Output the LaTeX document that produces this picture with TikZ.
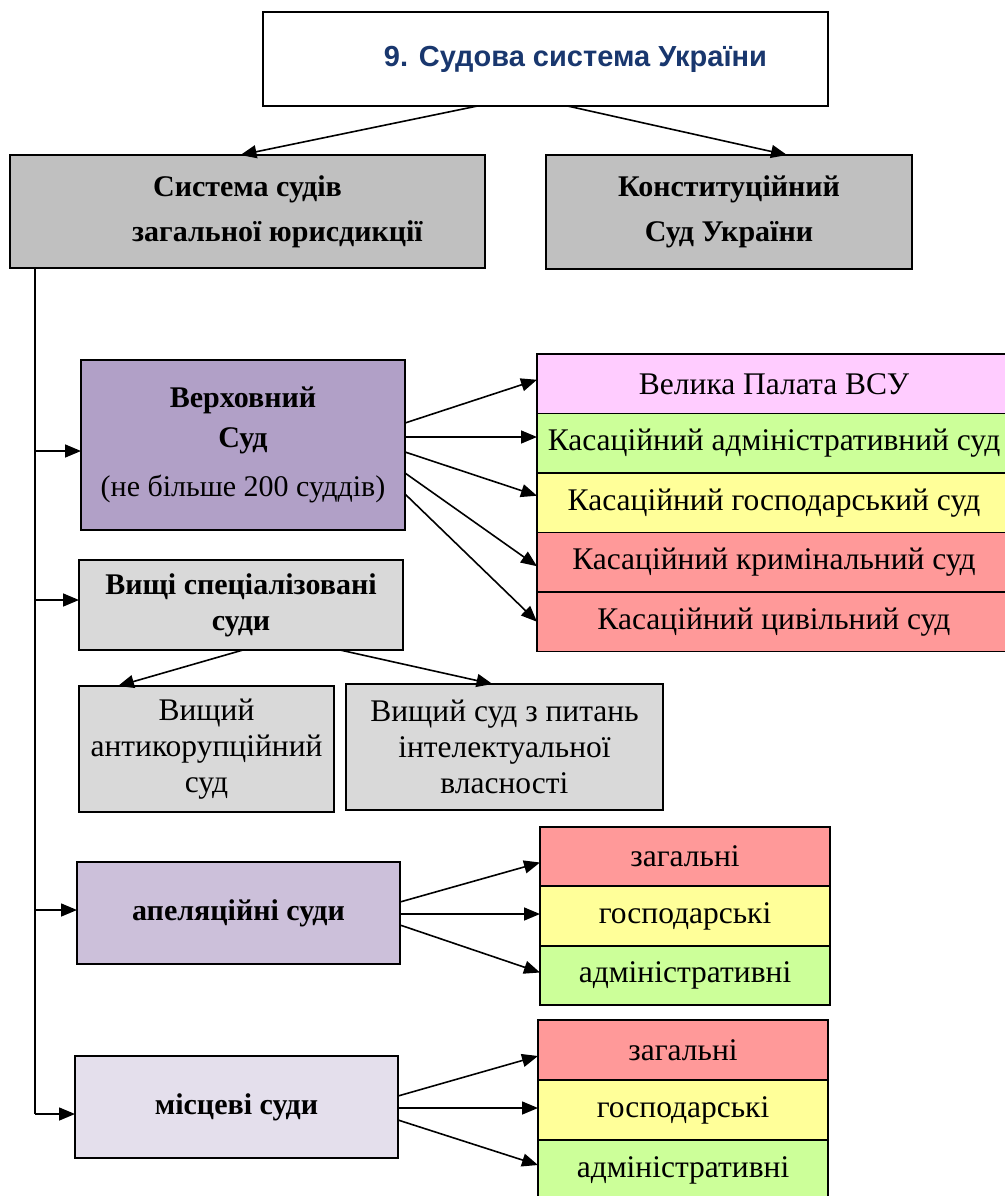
\documentclass[tikz,border=0pt]{standalone}
\usepackage{fontspec}
\setmainfont{Liberation Serif}
\newfontfamily\titlefont{Liberation Sans}
\usetikzlibrary{arrows.meta,calc}
\definecolor{titleblue}{RGB}{25,55,110}
\definecolor{grayA}{HTML}{C0C0C0}
\definecolor{grayB}{HTML}{D9D9D9}
\definecolor{violetA}{HTML}{B1A0C7}
\definecolor{violetB}{HTML}{CCC0DA}
\definecolor{violetC}{HTML}{E4DFEC}
\definecolor{pinkA}{HTML}{FFCCFF}
\definecolor{greenA}{HTML}{CCFF99}
\definecolor{yellowA}{HTML}{FFFF99}
\definecolor{redA}{HTML}{FF9999}
\begin{document}
\begin{tikzpicture}[x=1pt,y=-1pt,
  bx/.style={draw=black,line width=1.6pt,inner sep=0pt,outer sep=0pt,align=center},
  hd/.style={font=\fontsize{30}{45}\selectfont\bfseries},
  rg/.style={font=\fontsize{31.5}{36}\selectfont},
  arr/.style={line width=1.6pt,-{Triangle[length=16pt,width=13pt]}},
  ln/.style={line width=1.4pt}]
\useasboundingbox (0,0) rectangle (1004,1196);

% title
\node[bx,fill=white,minimum width=565pt,minimum height=94pt,text=titleblue,
  font=\titlefont\bfseries\fontsize{29}{34}\selectfont] (title) at (545.5,59) {\hspace*{60pt}9. Судова система України};

\node[bx,fill=grayA,minimum width=475pt,minimum height=113pt,hd] (sys) at (247.5,211.5) {Система судів\\\hspace*{60pt}загальної юрисдикції};
\node[bx,fill=grayA,minimum width=366pt,minimum height=114pt,hd] (ks) at (729,212) {Конституційний\\Суд України};

\draw[arr] ($(title.south)+(-68,0)$) -- ($(sys.north)+(-7,0)$);
\draw[arr] ($(title.south)+(22,0)$) -- ($(ks.north)+(58,0)$);

% Supreme court
\node[bx,fill=violetA,minimum width=324pt,minimum height=170pt,font=\fontsize{30}{40}\selectfont\bfseries] (vs) at (243,445)
  {Верховний\\Суд\\[9pt]{\fontsize{30}{30}\selectfont\mdseries(не більше 200 суддів)}};

\node[bx,fill=pinkA,minimum width=474pt,minimum height=59.5pt,rg] (r1) at (774,383.75) {Велика Палата ВСУ};
\node[bx,fill=greenA,minimum width=474pt,minimum height=59.5pt,rg,anchor=north] (r2) at (r1.south) {Касаційний адміністративний суд};
\node[bx,fill=yellowA,minimum width=474pt,minimum height=59.5pt,rg,anchor=north] (r3) at (r2.south) {Касаційний господарський суд};
\node[bx,fill=redA,minimum width=474pt,minimum height=59.5pt,rg,anchor=north] (r4) at (r3.south) {Касаційний кримінальний суд};
\node[bx,fill=redA,minimum width=474pt,minimum height=59.5pt,rg,anchor=north] (r5) at (r4.south) {Касаційний цивільний суд};

\coordinate (v2) at ($(vs.north east)+(0,77)$);
\draw[arr] ($(vs.north east)+(0,63)$) -- ([yshift=4pt]r1.west);
\draw[arr] (v2) -- (r2.west |- v2);
\draw[arr] ($(vs.north east)+(0,92)$) -- ([yshift=7pt]r3.west);
\draw[arr] ($(vs.north east)+(0,113)$) -- ([yshift=-4pt]r4.west);
\draw[arr] ($(vs.north east)+(0,134)$) -- (r5.west);

% higher specialised
\node[bx,fill=grayB,minimum width=324pt,minimum height=90pt,font=\fontsize{30}{36}\selectfont\bfseries] (vss) at (241,605) {Вищі спеціалізовані\\суди};
\node[bx,fill=grayB,minimum width=255pt,minimum height=126pt,font=\fontsize{31.5}{36}\selectfont] (ak) at (206.5,749) {Вищий\\антикорупційний\\суд};
\node[bx,fill=grayB,minimum width=317pt,minimum height=126pt,font=\fontsize{31.5}{36}\selectfont] (ip) at (504.5,747) {Вищий суд з питань\\інтелектуальної\\власності};
\draw[arr] ($(vss.south)+(2,0)$) -- ($(ak.north west)+(39,0)$);
\draw[arr] ($(vss.south)+(99,0)$) -- ($(ip.north)+(-12,0)$);

% appellate
\node[bx,fill=violetB,minimum width=323pt,minimum height=102pt,hd] (ap) at (238.5,913) {апеляційні суди};
\node[bx,fill=redA,minimum width=290pt,minimum height=59.5pt,rg] (a1) at (685,856.5) {загальні};
\node[bx,fill=yellowA,minimum width=290pt,minimum height=59.5pt,rg,anchor=north] (a2) at (a1.south) {господарські};
\node[bx,fill=greenA,minimum width=290pt,minimum height=59.5pt,rg,anchor=north] (a3) at (a2.south) {адміністративні};
\coordinate (p2) at ($(ap.north east)+(0,52)$);
\draw[arr] ($(ap.north east)+(0,40)$) -- ([yshift=-6pt]a1.west);
\draw[arr] (p2) -- (a2.west |- p2);
\draw[arr] ($(ap.north east)+(0,63)$) -- ([yshift=3pt]a3.west);

% local
\node[bx,fill=violetC,minimum width=323pt,minimum height=102pt,hd] (ms) at (236.5,1107) {місцеві суди};
\node[bx,fill=redA,minimum width=290pt,minimum height=60pt,rg] (m1) at (683,1050) {загальні};
\node[bx,fill=yellowA,minimum width=290pt,minimum height=60pt,rg,anchor=north] (m2) at (m1.south) {господарські};
\node[bx,fill=greenA,minimum width=290pt,minimum height=60pt,rg,anchor=north] (m3) at (m2.south) {адміністративні};
\coordinate (q2) at ($(ms.north east)+(0,52)$);
\draw[arr] ($(ms.north east)+(0,40)$) -- ([yshift=-6pt]m1.west);
\draw[arr] (q2) -- (m2.west |- q2);
\draw[arr] ($(ms.north east)+(0,64)$) -- ([yshift=5pt]m3.west);

% trunk
\coordinate (t1) at (35,451);
\coordinate (t2) at (35,600);
\coordinate (t3) at (35,910);
\coordinate (t4) at (35,1114);
\draw[ln] (sys.south -| t4) -- (t4);
\draw[arr] (t1) -- (t1 -| vs.west);
\draw[arr] (t2) -- (t2 -| vss.west);
\draw[arr] (t3) -- (t3 -| ap.west);
\draw[arr] (t4) -- (t4 -| ms.west);
\end{tikzpicture}
\end{document}
